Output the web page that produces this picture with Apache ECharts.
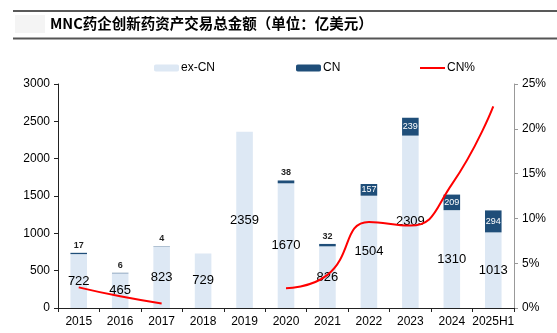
<!DOCTYPE html>
<html><head><meta charset="utf-8">
<script src="https://cdn.jsdelivr.net/npm/echarts@6/dist/echarts.min.js"></script>
<style>html,body{margin:0;padding:0;background:#fff}#c{width:557px;height:333px}</style>
</head><body><div id="c"></div>
<script>
const categories = ['2015','2016','2017','2018','2019','2020','2021','2022','2023','2024','2025H1'];
const exCN = [722,465,823,729,2359,1670,826,1504,2309,1310,1013];
const cn = [17,6,4,null,null,38,32,157,239,209,294];
const cnPct = [2.3,1.3,0.5,null,null,2.2,3.7,9.6,9.2,13.8,22.5];
const leftTicks = {min:0,max:3000,interval:500};
const rightTicks = {min:0,max:25,interval:5};

const font = 'Liberation Sans, Arial, sans-serif';
const chart = echarts.init(document.getElementById('c'), null, {renderer:'canvas'});
const cnData = cn.map(v => {
  if (v == null) return v;
  const big = v >= 100;
  return {value:v, label:{show:true, position: big ? 'inside' : 'top',
    color: big ? '#ffffff' : '#1f1f1f', fontSize: 9, fontWeight: big ? 'normal' : 'bold', distance: 3}};
});
chart.setOption({
  animation:false,
  textStyle:{fontFamily:font},
  graphic:[
    {type:'line', shape:{x1:13,y1:11,x2:557,y2:11}, style:{stroke:'#222',lineWidth:1.5}},
    {type:'line', shape:{x1:13,y1:38.5,x2:557,y2:38.5}, style:{stroke:'#555',lineWidth:2}},
    {type:'rect', shape:{x:15,y:15,width:30,height:18}, style:{fill:'#f4f4f4'}},
    {type:'text', left:50, top:16, style:{text:'MNC药企创新药资产交易总金额（单位：亿美元）', fontFamily:'Noto Sans CJK SC', fontWeight:'bold', fontSize:14.5, fill:'#000'}}
  ],
  legend:[
    {left:149, top:57, itemWidth:25, itemHeight:7, data:['ex-CN'], textStyle:{fontSize:12, color:'#000', padding:[0,0,0,-3]}},
    {left:291, top:57, itemWidth:25, itemHeight:7, data:['CN'], textStyle:{fontSize:12, color:'#000', padding:[0,0,0,-3]}},
    {left:415, top:57, itemWidth:25, itemHeight:2, data:[{name:'CN%', icon:'rect'}], textStyle:{fontSize:12, color:'#000', padding:[0,0,0,-3]}}
  ],
  grid:{left:58, right:43, top:84, bottom:25},
  xAxis:{type:'category', data:categories,
    axisLine:{lineStyle:{color:'#222'}},
    axisTick:{show:true, length:4, lineStyle:{color:'#222'}},
    axisLabel:{color:'#000', fontSize:12, margin:8, interval:0}},
  yAxis:[
    {type:'value', ...leftTicks, splitLine:{show:false},
      axisLine:{show:true, lineStyle:{color:'#222'}},
      axisTick:{show:true, length:4, lineStyle:{color:'#222'}},
      axisLabel:{color:'#000', fontSize:12, margin:8, formatter: v => String(v)}},
    {type:'value', ...rightTicks, splitLine:{show:false}, position:'right',
      axisLine:{show:true, lineStyle:{color:'#999'}},
      axisTick:{show:true, length:4, lineStyle:{color:'#999'}},
      axisLabel:{color:'#000', fontSize:12, margin:8, formatter:'{value}%'}}
  ],
  series:[
    {name:'ex-CN', type:'bar', stack:'t', barWidth:'40%', data:exCN,
      itemStyle:{color:'#dde8f4'},
      label:{show:true, position:'inside', color:'#000', fontSize:13}},
    {name:'CN', type:'bar', stack:'t', barWidth:'40%', data:cnData,
      itemStyle:{color:'#1f4e79'}},
    {name:'CN%', type:'line', yAxisIndex:1, data:cnPct, smooth:0.5, symbol:'none',
      connectNulls:false, lineStyle:{color:'#ff0000', width:2}, itemStyle:{color:'#ff0000'}, z:5}
  ]
});
</script></body></html>
